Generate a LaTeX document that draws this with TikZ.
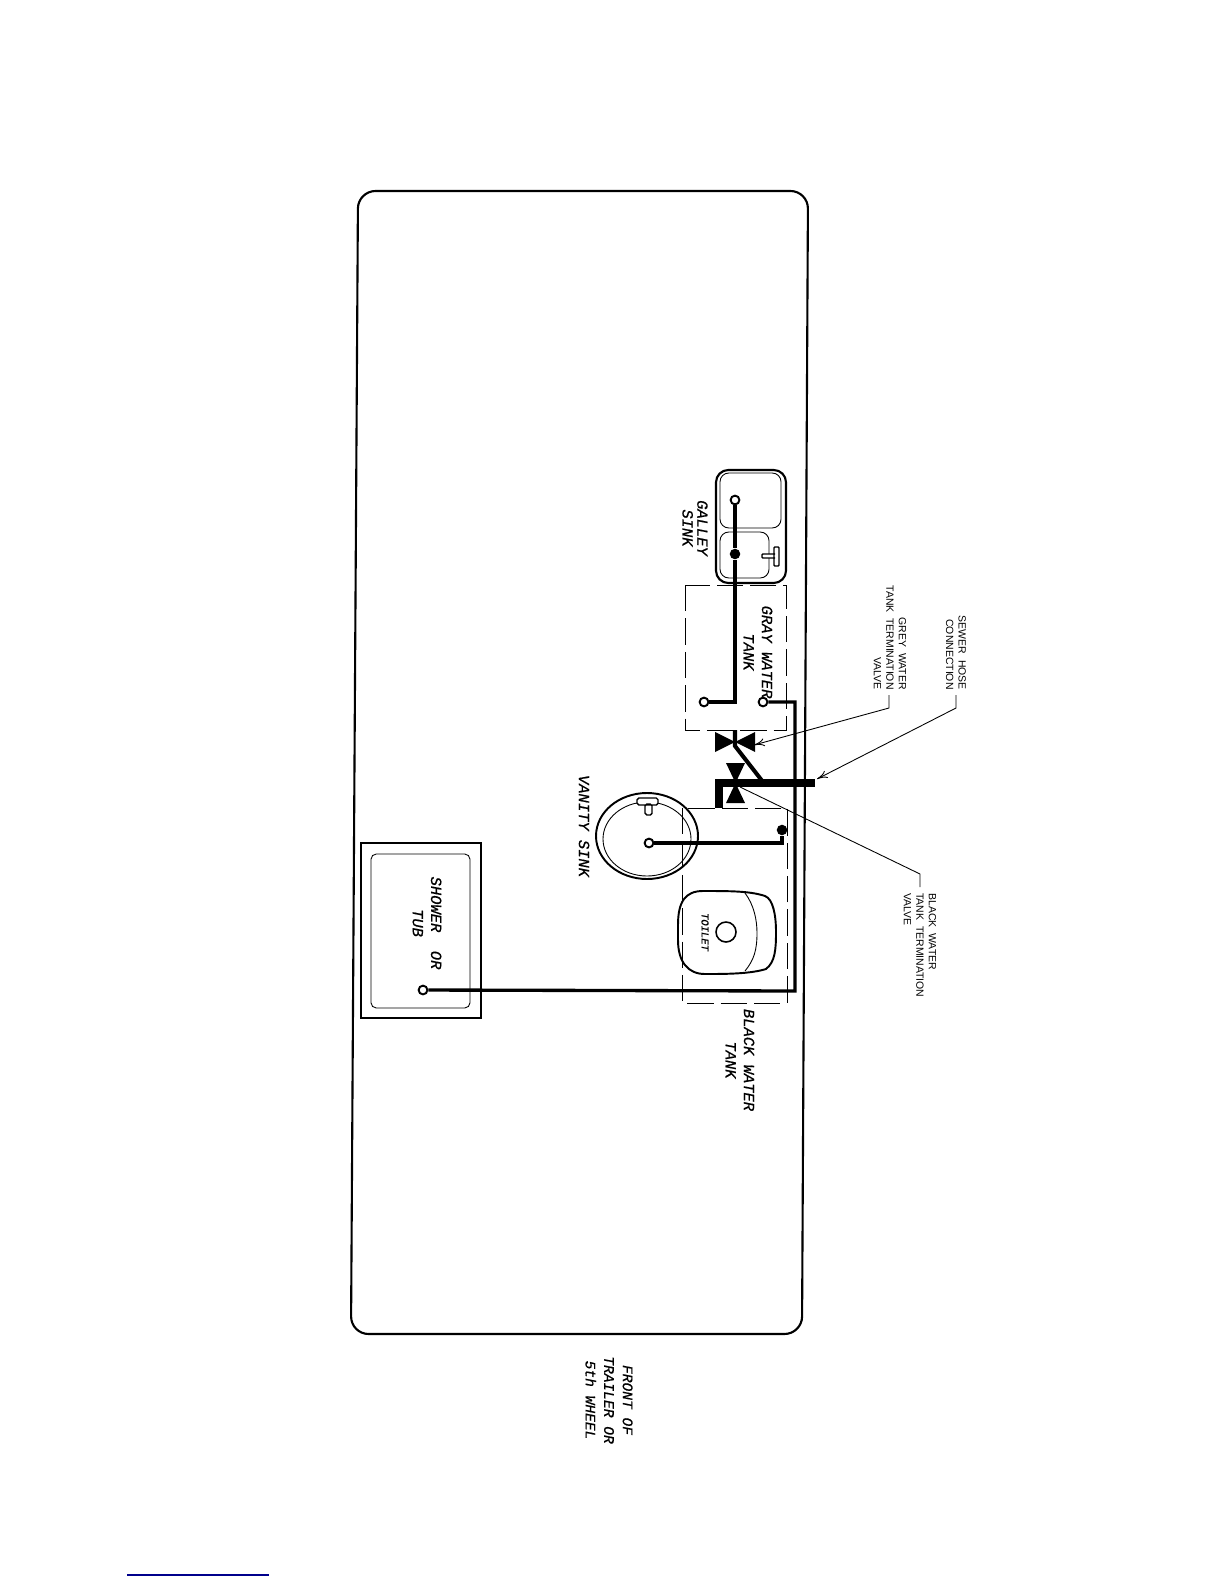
\documentclass[tikz,border=0pt]{standalone}
\usepackage{fontspec}
\usepackage{tikz}
\usetikzlibrary{arrows.meta}
\newfontfamily\drawfont[ItalicFeatures={FakeBold=0.6}]{Liberation Mono}
\newfontfamily\notefont{Liberation Sans}
\newcommand{\roomtext}{\drawfont\itshape\fontsize{8.8}{10.4}\selectfont}
\newcommand{\leadertext}{\notefont\fontsize{5.95}{7.1}\selectfont}

\begin{document}
\begin{tikzpicture}[x=0.02cm, y=-0.02cm,
  pipe/.style={line width=1.9pt},
  thin line/.style={line width=0.5pt},
  tank/.style={line width=0.55pt, dash pattern=on 15pt off 4pt},
  drain/.style={circle,draw,fill=white,line width=1.1pt,inner sep=0pt,minimum size=5pt},
  plug/.style={circle,fill=black,inner sep=0pt,minimum size=6pt},
  room/.style={rotate=-90,align=center,inner sep=0pt,font=\roomtext},
  note/.style={rotate=-90,inner sep=0pt,font=\leadertext},
  leader/.style={line width=0.5pt},
  tipped/.style={-{To[length=6pt,width=4.5pt]}}]
\useasboundingbox (0,0) rectangle (1224,1584);

% trailer outline
\draw[line width=1.2pt, rounded corners=10pt] (358,191) -- (808,191) -- (802,1334) -- (351,1334) -- cycle;

% shower
\draw[line width=1.3pt] (361,843) rectangle (481,1018);
\draw[thin line, rounded corners=3pt] (371,854) rectangle (470,1008);
\node[room] (showertext) at (427,923) {SHOWER\ \ OR\\TUB};

% galley sink
\draw[line width=1.2pt, rounded corners=7pt] (716,470) rectangle (786,583);
\draw[thin line, rounded corners=5pt] (720,473) rectangle (781,528);
\draw[thin line, rounded corners=5pt] (720,532) rectangle (769,578);
\draw[line width=0.8pt, fill=white, rounded corners=0.5pt] (775,554) -- (762,554) -- (762,558) -- (775,558) (774,547) rectangle (779,566);
\node[room] (galleytext) at (695,528) {GALLEY\\[-2pt]SINK};

% tanks
\draw[tank] (685,585) rectangle (786,730);
\draw[tank] (682,808) rectangle (787,1003);
\node[room] (graytext) at (758,652) {GRAY WATER\\TANK};
\node[room] (blacktext) at (740,1060) {BLACK WATER\\TANK};

% vanity sink
\draw[line width=1.1pt] (647,836) ellipse (51 and 43);
\draw[thin line] (647,839) ellipse (44 and 37);
\draw[line width=0.8pt, fill=white, rounded corners=1pt] (645,804) rectangle (652,815) (637,798) rectangle (658,805);
\node[room] (vanitytext) at (584,826) {VANITY SINK};

% toilet
\draw[line width=1.1pt] (678,925) .. controls (678,902) and (685,891) .. (703,891)
  .. controls (730,891) and (750,891) .. (765,896) .. controls (773,899) and (776,915) .. (776,932)
  .. controls (776,950) and (775,962) .. (766,969) .. controls (750,974) and (725,974) .. (705,974)
  .. controls (688,974) and (678,962) .. (678,940) -- cycle;
\draw[thin line] (745,893) .. controls (754,905) and (757,920) .. (757,933) .. controls (757,950) and (754,960) .. (745,971);
\draw[line width=0.9pt] (726,932) circle (10);
\node[room, font=\drawfont\itshape\fontsize{6}{7}\selectfont] (toilettext) at (705,932) {TOILET};

% drains
\node[drain] (galleyb) at (735,500) {};
\node[plug] (galleya) at (735,554) {};
\node[drain] (graydrain) at (704,702) {};
\node[drain] (grayout) at (763,702) {};
\node[drain] (showerdrain) at (423,990) {};
\node[drain] (vanitydrain) at (649,843) {};
\node[plug] (blackdrain) at (782,830) {};
\coordinate (showerbend) at (795,991);

\draw[pipe] (galleyb) -- (galleya) |- (graydrain);
\draw[pipe] (grayout) -| (showerbend) -- (showerdrain);
\draw[pipe] (vanitydrain) -| (blackdrain);

% valves and sewer line
\coordinate (sewerelbow) at (719,783);
\coordinate (sewerfoot) at (719,808);
\coordinate (sewerend) at (815,783);
\coordinate (greystem) at (735,730);
\coordinate (greyknee) at (735,746);
\coordinate (greyjoin) at (763,782);
\fill (715,732) -- (755,752) -- (755,732) -- (715,752) -- cycle;
\fill (726,763) -- (745,803) -- (726,803) -- (745,763) -- cycle;
\draw[line width=2.3pt] (greystem) -- (greyknee) -- (greyjoin);
\draw[line width=4pt] (sewerfoot) -- (sewerelbow) -- (sewerend);

% leaders
\node[note, anchor=east, align=right] (greynote) at (890,690) {GREY\ \ WATER\\TANK\ \ TERMINATION\\VALVE};
\node[note, anchor=east, align=right] (sewernote) at (956,690) {SEWER\ \ HOSE\\CONNECTION};
\node[note, anchor=west, align=left] (blacknote) at (920,893) {BLACK\ \ WATER\\TANK\ \ TERMINATION\\VALVE};
\coordinate (greytag) at (889,695);
\coordinate (greybend) at (889,708);
\coordinate (greyaim) at (754,745);
\coordinate (sewertag) at (956,695);
\coordinate (sewerbend) at (956,708);
\coordinate (seweraim) at (817,779);
\coordinate (blacktag) at (920,887);
\coordinate (blackbend) at (920,874);
\coordinate (blackaim) at (740,787);
\draw[leader, tipped] (greytag) -- (greybend) -- (greyaim);
\draw[leader, tipped] (sewertag) -- (sewerbend) -- (seweraim);
\draw[leader] (blacktag) -- (blackbend) -- (blackaim);

\node[room, font=\drawfont\itshape\fontsize{8.3}{10.6}\selectfont] (fronttext) at (609,1400) {FRONT OF\\TRAILER OR\\5th WHEEL};

% underline at the foot of the page
\coordinate (rulea) at (127,1575);
\coordinate (ruleb) at (269,1575);
\draw[line width=0.7pt, color={rgb,255:red,0;green,0;blue,140}] (rulea) -- (ruleb);

\end{tikzpicture}
\end{document}
